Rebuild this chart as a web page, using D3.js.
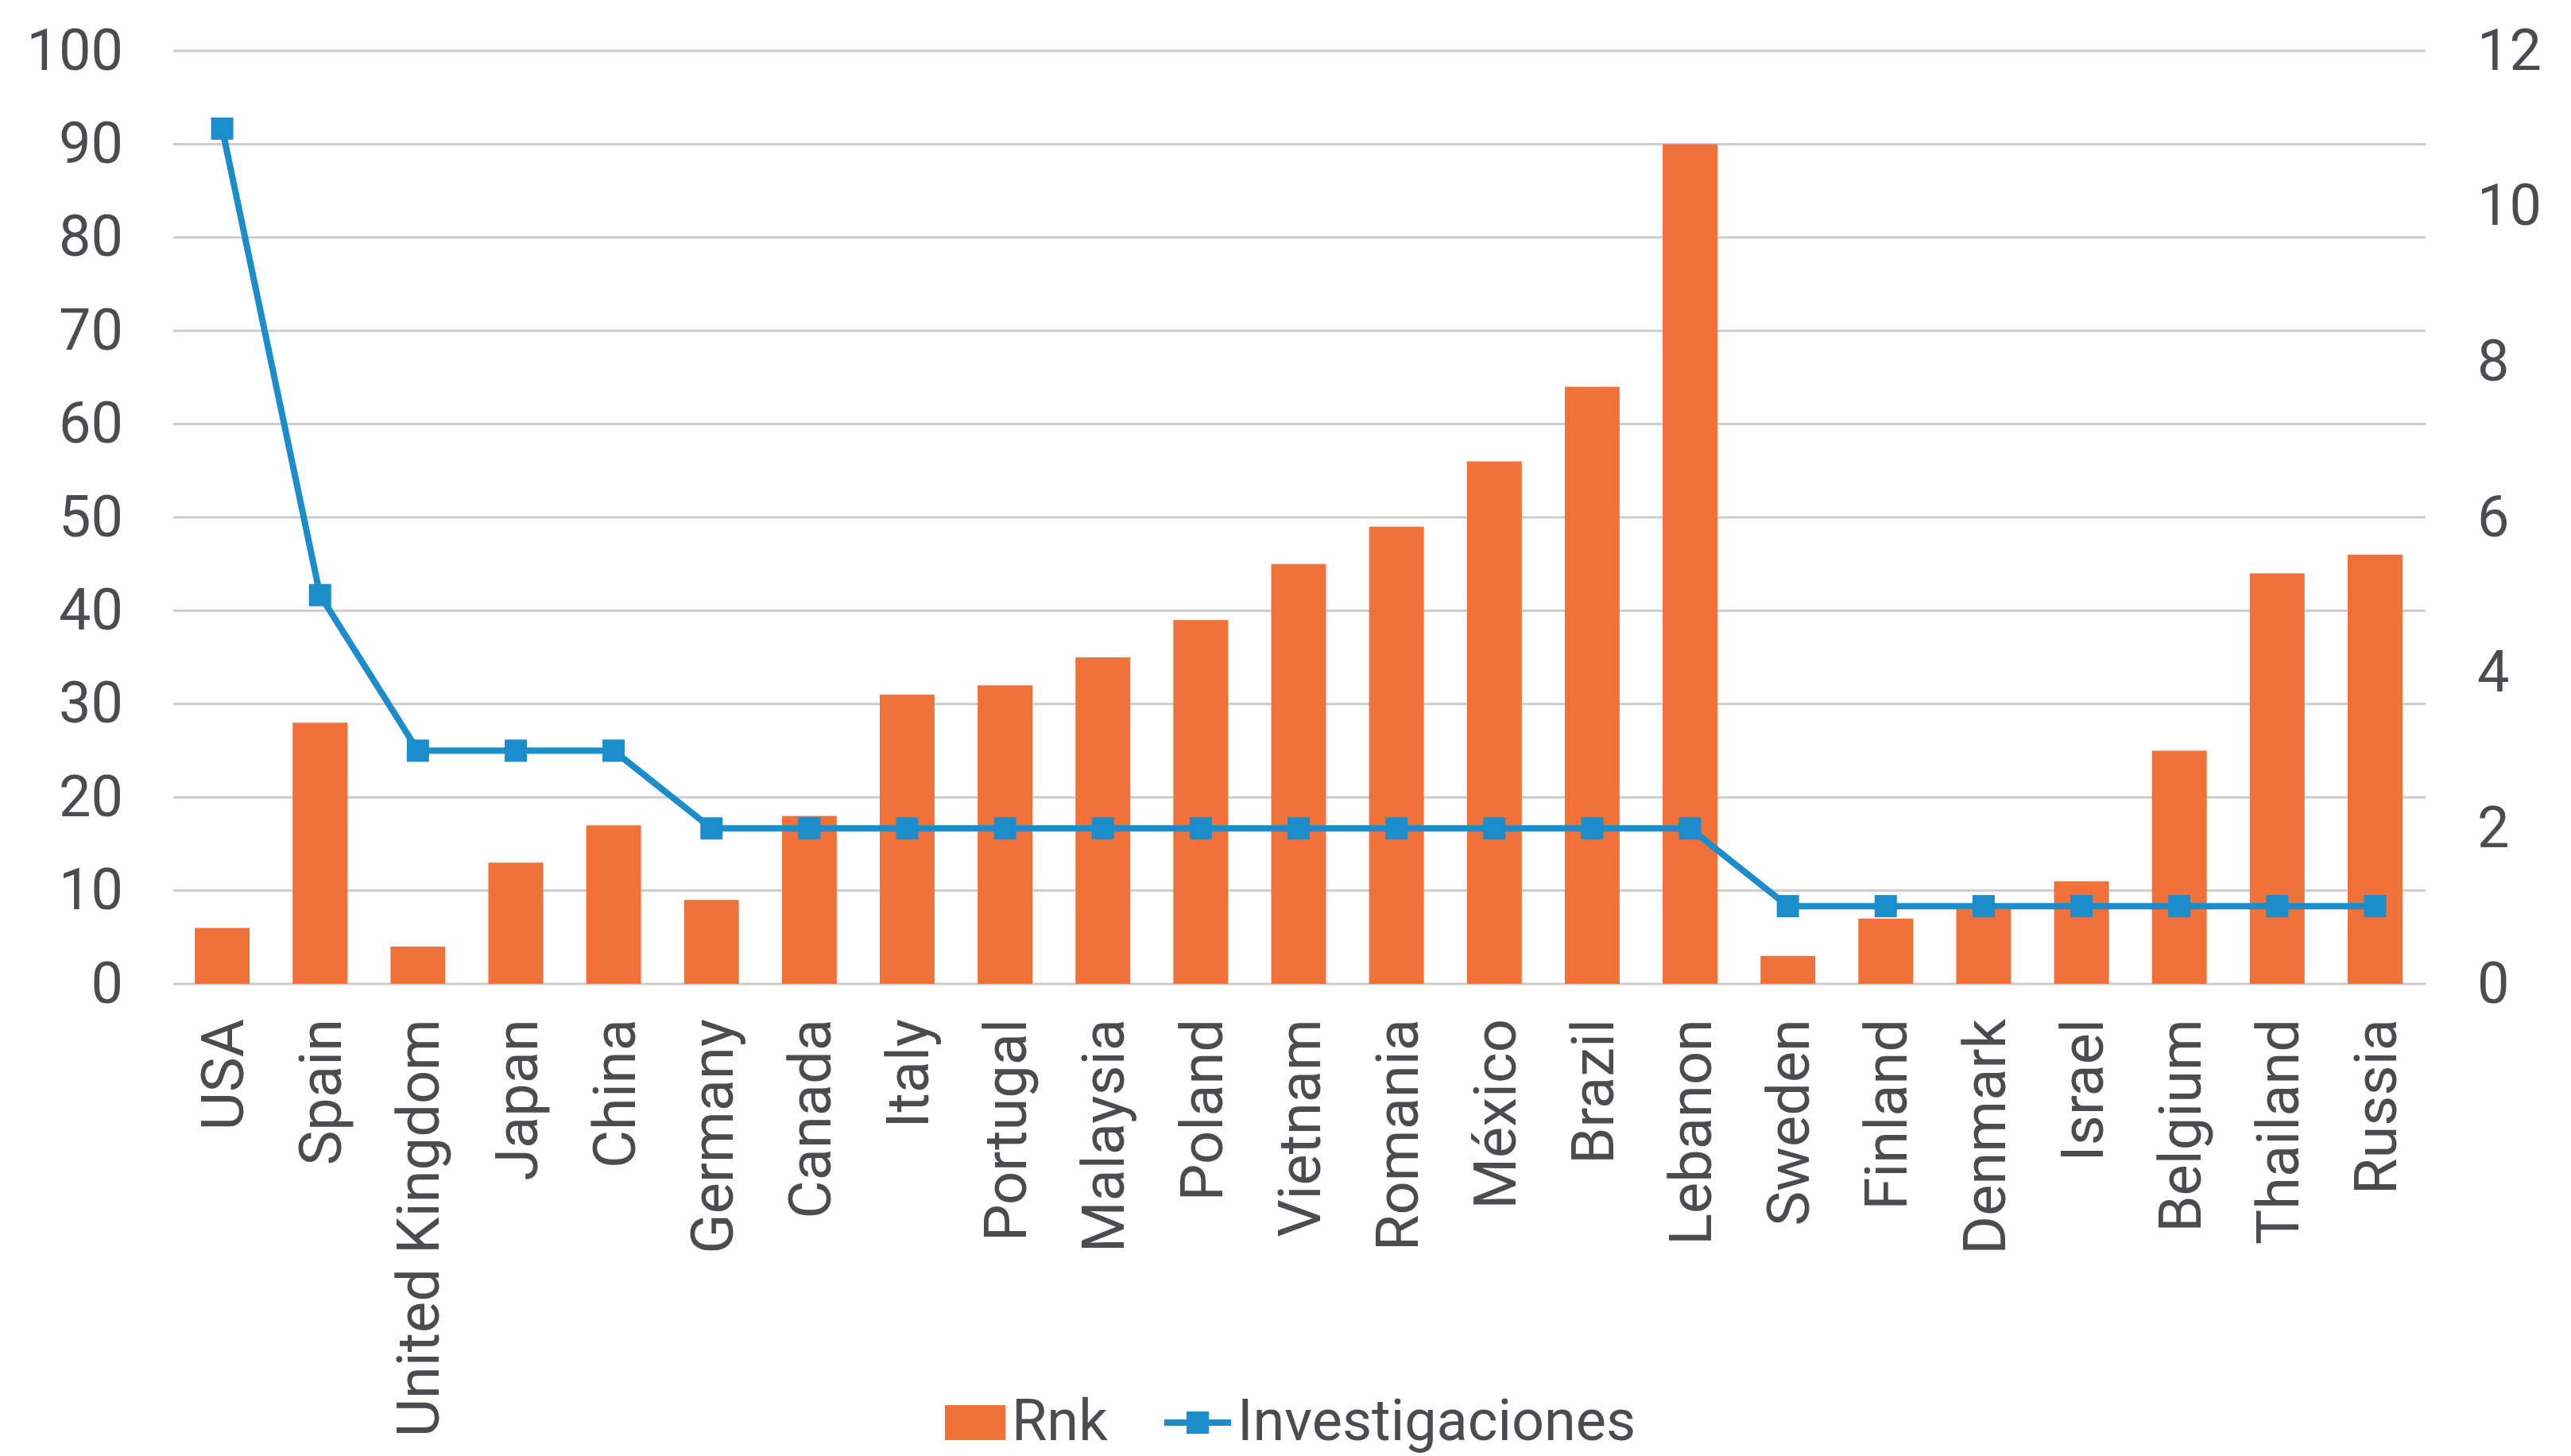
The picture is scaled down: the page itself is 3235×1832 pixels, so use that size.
<!DOCTYPE html>
<html>
<head>
<meta charset="utf-8">
<script src="https://cdn.jsdelivr.net/npm/d3@7"></script>
<style>
  html, body { margin: 0; padding: 0; background: #ffffff; }
  svg { display: block; }
  text { font-family: Roboto, "Liberation Sans", sans-serif; fill: #4b4b50; }
</style>
</head>
<body>
<svg id="chart" width="3235" height="1832"></svg>
<script>
const categories = ["USA","Spain","United Kingdom","Japan","China","Germany","Canada","Italy","Portugal","Malaysia","Poland","Vietnam","Romania","México","Brazil","Lebanon","Sweden","Finland","Denmark","Israel","Belgium","Thailand","Russia"];
const rnkValues = [6,28,4,13,17,9,18,31,32,35,39,45,49,56,64,90,3,7,8,11,25,44,46];
const investigacionesValues = [11,5,3,3,3,2,2,2,2,2,2,2,2,2,2,2,1,1,1,1,1,1,1];
const leftTicks = [0,10,20,30,40,50,60,70,80,90,100];
const rightTicks = [0,2,4,6,8,10,12];
const seriesNames = ["Rnk","Investigaciones"];

const W = 3235, H = 1832;
const plot = {left: 218, right: 3050, top: 64, bottom: 1238};
const barColor = "#f07139";
const lineColor = "#1b8dcb";
const gridColor = "#cdcdcd";
const tickFont = 72;
const catFont = 74;
const legendFont = 72;

const svg = d3.select("#chart");

const x = d3.scaleBand().domain(categories).range([plot.left, plot.right]).paddingInner(0.44).paddingOuter(0.22);
const yL = d3.scaleLinear().domain([0,100]).range([plot.bottom, plot.top]);
const yR = d3.scaleLinear().domain([0,12]).range([plot.bottom, plot.top]);

// gridlines
svg.append("g").selectAll("line").data(leftTicks).join("line")
  .attr("x1", plot.left).attr("x2", plot.right + 2)
  .attr("y1", d => yL(d)).attr("y2", d => yL(d))
  .attr("stroke", gridColor).attr("stroke-width", 3);

// left axis
const axL = svg.append("g").attr("transform", `translate(${plot.left},0)`)
  .call(d3.axisLeft(yL).tickValues(leftTicks).tickSize(0).tickPadding(63));
axL.select(".domain").remove();
axL.selectAll("text").style("font-size", tickFont + "px").attr("fill", "#4b4b50").attr("font-family", null);

// right axis
const axR = svg.append("g").attr("transform", `translate(${plot.right},0)`)
  .call(d3.axisRight(yR).tickValues(rightTicks).tickSize(0).tickPadding(67));
axR.select(".domain").remove();
axR.selectAll("text").style("font-size", tickFont + "px").attr("fill", "#4b4b50").attr("font-family", null);

// bars
svg.append("g").selectAll("rect").data(categories).join("rect")
  .attr("x", d => x(d)).attr("width", x.bandwidth())
  .attr("y", (d,i) => yL(rnkValues[i]))
  .attr("height", (d,i) => yL(0) - yL(rnkValues[i]))
  .attr("fill", barColor);

// x axis labels
const axX = svg.append("g").attr("transform", `translate(0,${plot.bottom})`)
  .call(d3.axisBottom(x).tickSize(0).tickPadding(0));
axX.select(".domain").remove();
axX.selectAll("text")
  .style("font-size", catFont + "px").attr("fill", "#4b4b50").attr("font-family", null)
  .attr("text-anchor", "end")
  .attr("dy", "0.36em")
  .attr("transform", "translate(0,44) rotate(-90)")
  .attr("x", 0).attr("y", 0);

// line
const cx = d => x(d) + x.bandwidth() / 2;
const lineGen = d3.line().x(d => cx(d)).y((d,i) => yR(investigacionesValues[i]));
svg.append("path").datum(categories)
  .attr("d", lineGen)
  .attr("fill", "none").attr("stroke", lineColor).attr("stroke-width", 8).attr("stroke-linejoin", "round");

const ms = 28;
svg.append("g").selectAll("rect").data(categories).join("rect")
  .attr("x", d => cx(d) - ms/2).attr("y", (d,i) => yR(investigacionesValues[i]) - ms/2)
  .attr("width", ms).attr("height", ms).attr("fill", lineColor);

// legend
const lg = svg.append("g");
lg.append("rect").attr("x", 1189).attr("y", 1768).attr("width", 76).attr("height", 44).attr("fill", barColor);
lg.append("text").attr("x", 1273).attr("y", 1812).style("font-size", legendFont + "px").text(seriesNames[0]);
lg.append("line").attr("x1", 1465).attr("x2", 1549).attr("y1", 1790).attr("y2", 1790)
  .attr("stroke", lineColor).attr("stroke-width", 8);
lg.append("rect").attr("x", 1507 - ms/2).attr("y", 1790 - ms/2).attr("width", ms).attr("height", ms).attr("fill", lineColor);
lg.append("text").attr("x", 1557).attr("y", 1812).style("font-size", legendFont + "px").text(seriesNames[1]);
</script>
</body>
</html>
